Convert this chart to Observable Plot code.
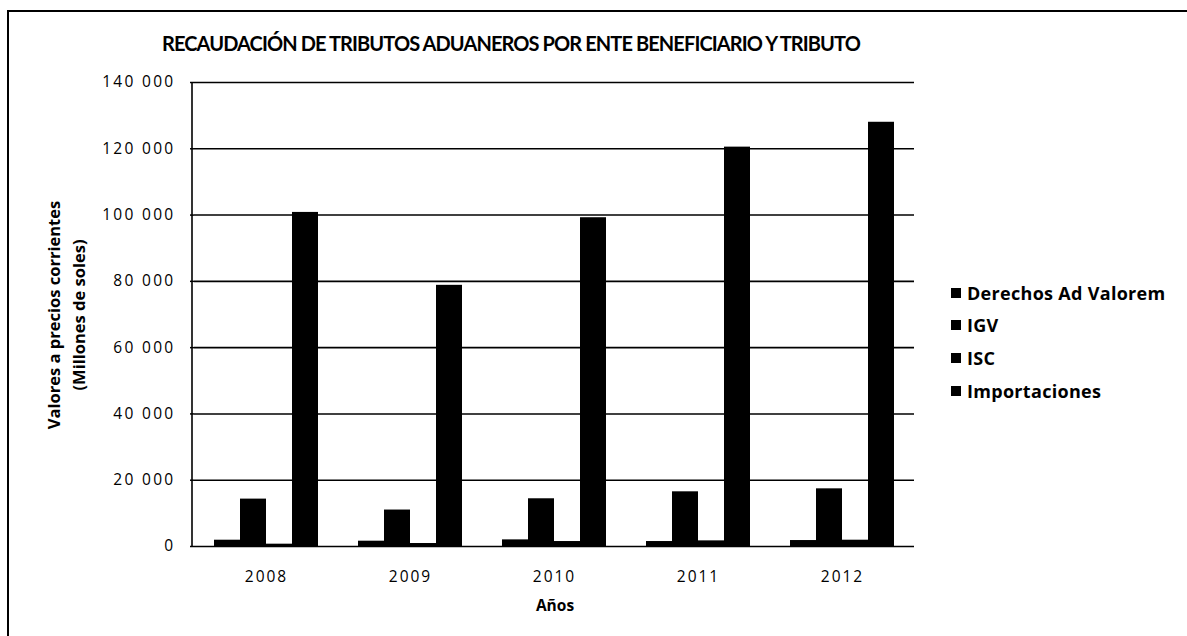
<!DOCTYPE html>
<html>
<head>
<meta charset="utf-8">
<script src="https://cdn.jsdelivr.net/npm/d3@7"></script>
<script src="https://cdn.jsdelivr.net/npm/@observablehq/plot@0.6"></script>
<style>
  body { margin: 0; background: #fff; font-family: "Open Sans", Lato, sans-serif; color: #000; }
  #wrap { position: relative; width: 1187px; height: 636px; overflow: hidden; background: #fff; }
  #bl { position: absolute; left: 7px; top: 10px; width: 2px; height: 626px; background: #000; }
  #bt { position: absolute; left: 7px; top: 10px; width: 1180px; height: 2px; background: #000; }
  #title { position: absolute; left: 0; top: 31px; width: 1022px; text-align: center; font-family: Lato, sans-serif; font-weight: bold; font-size: 20px; letter-spacing: -0.9px; white-space: nowrap; }
  #chart { position: absolute; left: 0; top: 70px; }
  #ylabel { position: absolute; left: 66px; top: 315px; transform: translate(-50%, -50%) rotate(-90deg); font-weight: bold; font-size: 16.5px; line-height: 25px; text-align: center; white-space: nowrap; }
  #xlabel { position: absolute; left: 555px; top: 594px; transform: translateX(-50%); font-weight: bold; font-size: 15.5px; }
  #legend { position: absolute; left: 951px; top: 281px; font-weight: bold; font-size: 18px; letter-spacing: 0.3px; }
  #legend .it { display: flex; align-items: center; height: 23px; margin-bottom: 9.7px; white-space: nowrap; }
  #legend .sw { width: 10px; height: 10px; background: #000; margin-right: 6px; }
  #chart svg g[aria-label="y-axis tick label"] text { letter-spacing: 2.3px; }
  #chart svg g[aria-label="fx-axis tick label"] text { letter-spacing: 2px; }
</style>
</head>
<body>
<div id="wrap">
  <div id="bl"></div><div id="bt"></div>
  <div id="title"></div>
  <div id="chart"></div>
  <div id="ylabel"></div>
  <div id="xlabel"></div>
  <div id="legend"></div>
</div>
<script>
const titleText = "RECAUDACIÓN DE TRIBUTOS ADUANEROS POR ENTE BENEFICIARIO Y TRIBUTO";
const yLabelLines = ["Valores a precios corrientes", "(Millones de soles)"];
const xLabelText = "Años";
const years = ["2008", "2009", "2010", "2011", "2012"];
const series = ["Derechos Ad Valorem", "IGV", "ISC", "Importaciones"];
const derechos = [1900, 1600, 2000, 1500, 1800];
const igv = [14300, 11000, 14400, 16500, 17400];
const isc = [700, 900, 1500, 1700, 1900];
const importaciones = [100800, 78800, 99200, 120500, 128000];
const yTicks = [0, 20000, 40000, 60000, 80000, 100000, 120000, 140000];

const seriesValues = [derechos, igv, isc, importaciones];
const data = years.flatMap((yr, i) => series.map((s, j) => ({year: yr, serie: s, value: seriesValues[j][i]})));
const fmt = d => d3.format(",")(d).replace(/,/g, " ");

document.getElementById("title").textContent = titleText;
document.getElementById("ylabel").innerHTML = yLabelLines.map(l => `<div>${l}</div>`).join("");
document.getElementById("xlabel").textContent = xLabelText;
const leg = document.getElementById("legend");
series.forEach(s => {
  const it = document.createElement("div"); it.className = "it";
  const sw = document.createElement("div"); sw.className = "sw";
  const t = document.createElement("span"); t.textContent = s;
  it.appendChild(sw); it.appendChild(t); leg.appendChild(it);
});

const marginLeft = 192, marginTop = 12, marginBottom = 46, height = 522;
const chart = Plot.plot({
  width: 940,
  height,
  marginLeft,
  marginRight: 25,
  marginTop,
  marginBottom,
  style: {fontFamily: "'Open Sans', Lato, sans-serif", fontSize: "15.5px", color: "#000", background: "transparent"},
  fx: {domain: years, padding: 0, label: null},
  x: {domain: series, paddingInner: 0, paddingOuter: 0.73, axis: null},
  y: {domain: [0, 140000], label: null},
  marks: [
    Plot.ruleY(yTicks, {stroke: "#000", strokeWidth: 1.6}),
    Plot.barY(data, {fx: "year", x: "serie", y: "value", fill: "#000"}),
    Plot.axisY(yTicks, {tickSize: 4, tickPadding: 15, tickFormat: fmt, stroke: "#000", strokeWidth: 1.5, fontWeight: 500, label: null}),
    Plot.axisFx({anchor: "bottom", tickSize: 0, tickPadding: 24, fontWeight: 500, label: null})
  ]
});
// vertical y axis line, positioned with the plot's own y scale
const ys = chart.scale("y");
d3.select(chart).append("line")
  .attr("x1", marginLeft).attr("x2", marginLeft)
  .attr("y1", ys.apply(140000)).attr("y2", ys.apply(0))
  .attr("stroke", "#000").attr("stroke-width", 1.6);
document.getElementById("chart").appendChild(chart);
</script>
</body>
</html>
